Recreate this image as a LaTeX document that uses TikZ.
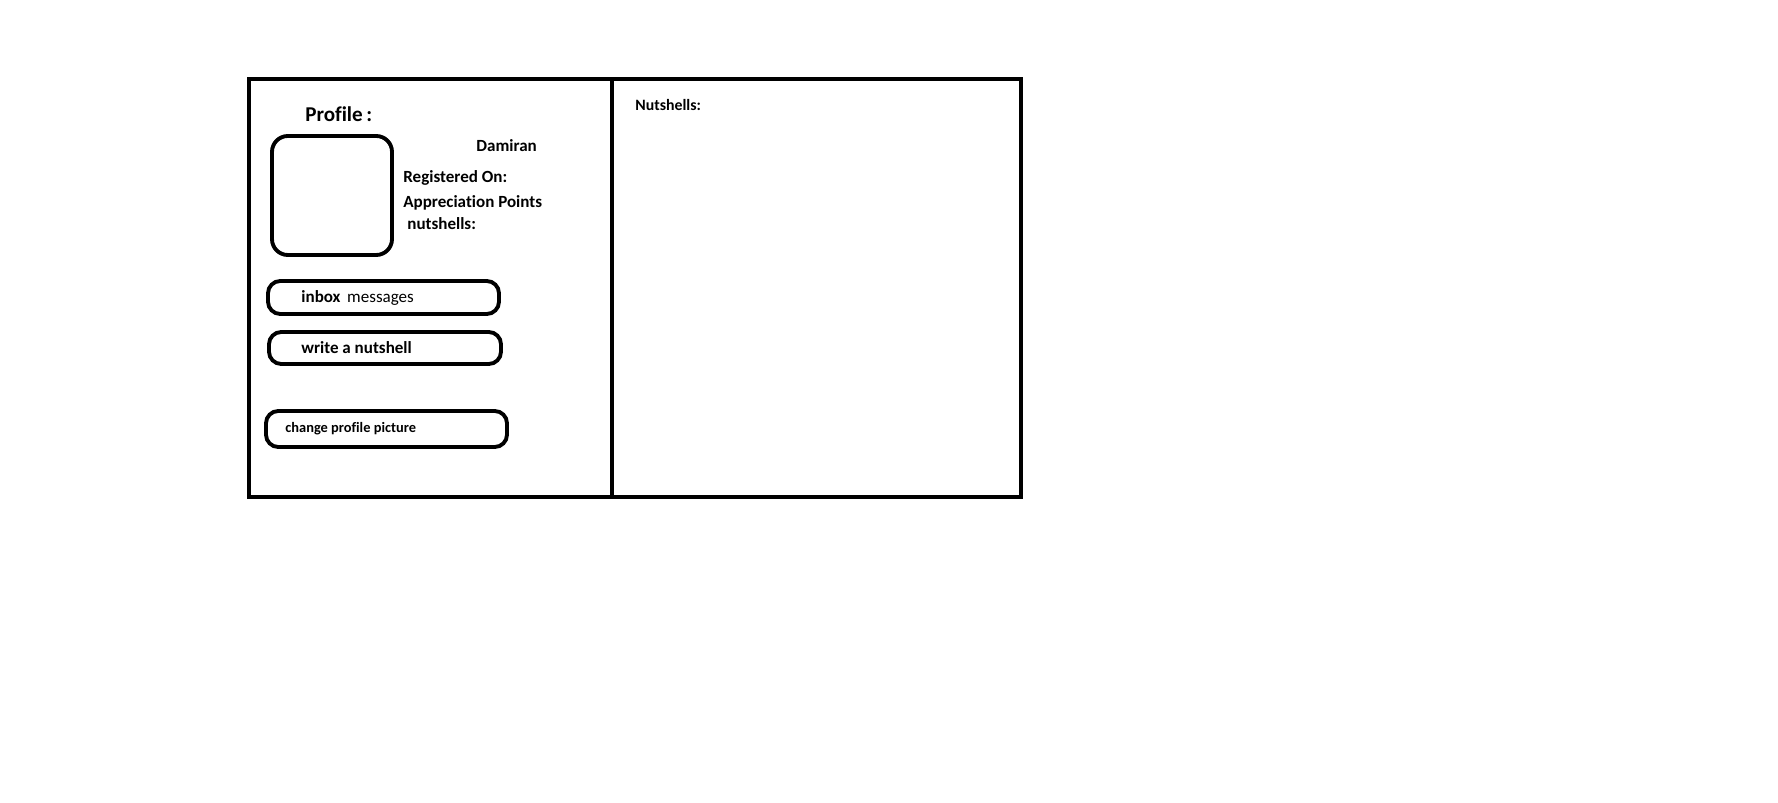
\documentclass[tikz,border=0pt]{standalone}
\usepackage{fontspec}
\setmainfont{Carlito}[Ligatures={NoCommon}]
\usetikzlibrary{positioning}

\tikzset{
  thick line/.style={line width=2.2pt, color=black},
  btn/.style={thick line, draw, rounded corners=7pt, inner sep=0pt},
  lbl/.style={anchor=west, inner sep=0pt, font=\bfseries\fontsize{9.7}{11}\selectfont},
}

\begin{document}
\begin{tikzpicture}[x=0.02cm, y=-0.02cm]
			%%%%% FRAME %%%%%
			\useasboundingbox (0, 0) rectangle (1778, 803);
			\draw[thick line] (249, 79) rectangle (1021, 497);
			\draw[thick line] (612, 79) -- (612, 497);
			
			%%%%% PROFILE %%%%%
			\node[lbl, font=\bfseries\fontsize{12}{14}\selectfont] (profile) at (305, 114) {Profile\,:};
			\node[thick line, draw, rounded corners=9pt, minimum width=120*0.02cm, minimum height=119*0.02cm] (photo) at (332, 195.5) {};
			\node[lbl] (name) at (476, 146) {Damiran};
			\node[lbl] (registered) at (403, 178) {Registered On:};
			\node[lbl] (points) at (403, 203) {Appreciation Points};
			\node[lbl] (count) at (407, 224) {nutshells:};
			
			%%%%% BUTTONS %%%%%
			\node[btn, minimum width=231*0.02cm, minimum height=33*0.02cm] (inbox) at (383.5, 297.5) {};
			\node[lbl, right=35*0.02cm of inbox.west] (inboxtext) {inbox\, \mdseries messages};
			\node[btn, minimum width=232*0.02cm, minimum height=32*0.02cm] (write) at (385, 348) {};
			\node[lbl, right=34*0.02cm of write.west] (writetext) {write a nutshell};
			\node[btn, minimum width=241*0.02cm, minimum height=36*0.02cm] (change) at (386.5, 429) {};
			\node[lbl, right=21*0.02cm of change.west, font=\bfseries\fontsize{8.2}{10}\selectfont] (changetext) {change profile picture};
			
			%%%%% NUTSHELLS %%%%%
			\node[lbl, font=\bfseries\fontsize{9}{11}\selectfont] (nutshells) at (635, 105) {Nutshells:};
\end{tikzpicture}
\end{document}
